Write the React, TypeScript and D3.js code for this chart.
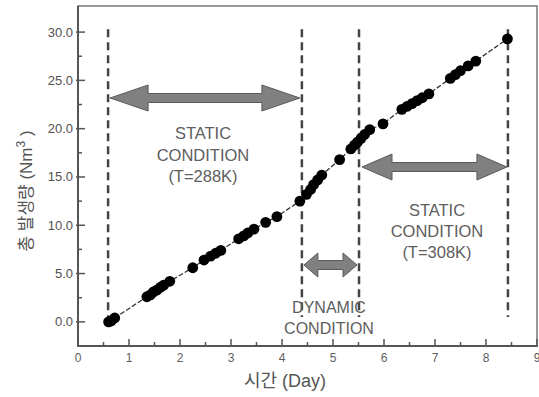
import React from "react";
import * as d3 from "d3";

const days = [0.6, 0.65, 0.72, 1.35, 1.42, 1.48, 1.55, 1.62, 1.68, 1.8, 2.25, 2.47, 2.6, 2.7, 2.8, 3.15, 3.25, 3.33, 3.45, 3.68, 3.9, 4.35, 4.48, 4.56, 4.62, 4.7, 4.78, 5.13, 5.35, 5.42, 5.48, 5.55, 5.62, 5.72, 5.98, 6.35, 6.45, 6.55, 6.65, 6.75, 6.88, 7.3, 7.4, 7.5, 7.65, 7.8, 8.42];
const volumes = [0.0, 0.1, 0.4, 2.6, 2.8, 3.1, 3.3, 3.6, 3.8, 4.2, 5.6, 6.4, 6.8, 7.1, 7.4, 8.6, 8.9, 9.2, 9.6, 10.3, 10.9, 12.5, 13.2, 13.7, 14.2, 14.7, 15.2, 16.8, 17.9, 18.3, 18.6, 19.0, 19.4, 19.9, 20.5, 22.0, 22.3, 22.6, 22.9, 23.2, 23.6, 25.2, 25.6, 26.0, 26.5, 27.0, 29.3];
const boundaries = [0.59, 4.39, 5.51, 8.43];
const xTickValues = [0, 1, 2, 3, 4, 5, 6, 7, 8, 9];
const yTickValues = [0, 5, 10, 15, 20, 25, 30];
const staticLeftLines = ["STATIC", "CONDITION", "(T=288K)"];
const staticRightLines = ["STATIC", "CONDITION", "(T=308K)"];
const dynamicLines = ["DYNAMIC", "CONDITION"];

const FONT = "'Liberation Sans', Arial, 'Noto Sans CJK KR', sans-serif";

function arrowPath(x1: number, x2: number, cy: number, headLen: number, headHalf: number, shaftHalf: number) {
  const p = d3.path();
  p.moveTo(x1, cy);
  p.lineTo(x1 + headLen, cy - headHalf);
  p.lineTo(x1 + headLen, cy - shaftHalf);
  p.lineTo(x2 - headLen, cy - shaftHalf);
  p.lineTo(x2 - headLen, cy - headHalf);
  p.lineTo(x2, cy);
  p.lineTo(x2 - headLen, cy + headHalf);
  p.lineTo(x2 - headLen, cy + shaftHalf);
  p.lineTo(x1 + headLen, cy + shaftHalf);
  p.lineTo(x1 + headLen, cy + headHalf);
  p.closePath();
  return p.toString();
}

export default function App() {
  const x = d3.scaleLinear().domain([0, 9]).range([78, 537]);
  const y = d3.scaleLinear().domain([-2.5, 32.7]).range([346, 6]);
  const pts = days.map((d, i) => [d, volumes[i]] as [number, number]);
  const line = d3.line<[number, number]>().x((d) => x(d[0])).y((d) => y(d[1]));
  const x0 = x(0), yb = y(-2.5);
  const xMinor = d3.range(0.5, 9, 1);
  const yMinor = d3.range(2.5, 30, 5);

  const arrowFill = "#808080";
  const arrowStroke = "#5a5a5a";
  const textColor = "#5e5e5e";

  return (
    <svg width={539} height={397} style={{ position: "absolute", left: 0, top: 0, background: "#fff" }} fontFamily={FONT}>
      <rect x={0} y={0} width={539} height={397} fill="#fff" />
      <rect x={x(0)} y={y(32.7)} width={x(9) - x(0)} height={y(-2.5) - y(32.7)} fill="none" stroke="#777" strokeWidth={1.5} />
      <line x1={x0} x2={x0} y1={y(32.7)} y2={yb} stroke="#555" strokeWidth={2} />
      <line x1={x0} x2={x(9)} y1={yb} y2={yb} stroke="#555" strokeWidth={2} />
      {xTickValues.map((t) => (
        <g key={"xt" + t}>
          <line x1={x(t)} x2={x(t)} y1={yb + 1} y2={yb - 7} stroke="#555" strokeWidth={1.5} />
          <text x={x(t)} y={yb + 16} textAnchor="middle" fontSize={12} fill={textColor}>{t}</text>
        </g>
      ))}
      {xMinor.map((t) => (
        <line key={"xm" + t} x1={x(t)} x2={x(t)} y1={yb} y2={yb - 4} stroke="#555" strokeWidth={1.5} />
      ))}
      {yTickValues.map((t) => (
        <g key={"yt" + t}>
          <line x1={x0 - 2} x2={x0 + 7} y1={y(t)} y2={y(t)} stroke="#555" strokeWidth={1.5} />
          <text x={x0 - 5} y={y(t) + 4.5} textAnchor="end" fontSize={13} fill="#505050">{t.toFixed(1)}</text>
        </g>
      ))}
      {yMinor.map((t) => (
        <line key={"ym" + t} x1={x0} x2={x0 + 4} y1={y(t)} y2={y(t)} stroke="#555" strokeWidth={1.5} />
      ))}
      <text x={285} y={387} textAnchor="middle" fontSize={18} fill="#555">시간 (Day)</text>
      <text transform={`translate(32,191) rotate(-90)`} textAnchor="middle" fontSize={17} fill="#555">
        총 발생량 (Nm<tspan dy={-7} fontSize={12}>3</tspan><tspan dy={7}> )</tspan>
      </text>
      {boundaries.map((b, i) => (
        <line key={"b" + i} x1={x(b)} x2={x(b)} y1={y(30.3)} y2={y(0.5)} stroke="#444" strokeWidth={2.5} strokeDasharray="8,5" />
      ))}
      <path d={arrowPath(x(boundaries[0]) + 2, x(boundaries[1]) - 2, 98, 38, 13, 4.5)} fill={arrowFill} stroke={arrowStroke} strokeWidth={1} />
      <path d={arrowPath(x(boundaries[2]) + 3, x(boundaries[3]) - 1, 167, 30, 13, 4.5)} fill={arrowFill} stroke={arrowStroke} strokeWidth={1} />
      <path d={arrowPath(x(boundaries[1]) + 2, x(boundaries[2]) - 2, 265, 14, 12, 4.5)} fill={arrowFill} stroke={arrowStroke} strokeWidth={1} />
      {staticLeftLines.map((s, i) => (
        <text key={"sl" + i} x={203} y={139 + i * 21.5} textAnchor="middle" fontSize={16.5} fill={textColor}>{s}</text>
      ))}
      {staticRightLines.map((s, i) => (
        <text key={"sr" + i} x={437} y={216 + i * 21} textAnchor="middle" fontSize={16.5} fill={textColor}>{s}</text>
      ))}
      {dynamicLines.map((s, i) => (
        <text key={"dl" + i} x={329} y={313 + i * 20.5} textAnchor="middle" fontSize={16} fill={textColor}>{s}</text>
      ))}
      <path d={line(pts) || ""} fill="none" stroke="#333" strokeWidth={1.3} strokeDasharray="5,2" />
      {pts.map((p, i) => (
        <circle key={"p" + i} cx={x(p[0])} cy={y(p[1])} r={5.4} fill="#000" />
      ))}
    </svg>
  );
}
